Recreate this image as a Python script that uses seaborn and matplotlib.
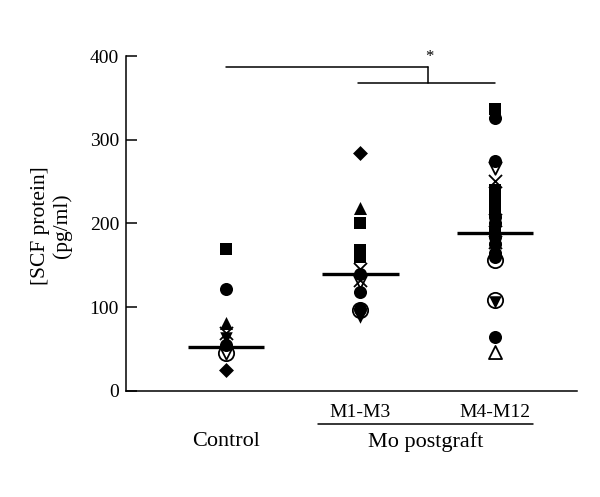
import matplotlib
matplotlib.use("Agg")
import matplotlib.pyplot as plt
import matplotlib.transforms as mtransforms
import seaborn as sns
import pandas as pd

# ---------------- data ----------------
groups = ["Control", "M1-M3", "M4-M12"]

control_values = [169, 121, 81, 69, 63, 55, 45, 45, 25]
control_symbols = ["square", "circle", "triangle", "cross", "tri_down",
                   "circle", "open_circle", "open_tri_down", "diamond"]

m1_values = [284, 218, 200, 168, 160, 146, 140, 132, 130, 118, 98, 96, 88]
m1_symbols = ["diamond", "triangle", "square", "square", "square", "cross",
              "circle", "cross", "open_tri_down", "circle", "circle",
              "open_circle", "tri_down"]

m4_values = [337, 326, 274, 266, 251, 240, 232, 224, 215, 208, 204, 200,
             195, 190, 184, 178, 175, 170, 165, 160, 156, 108, 106, 64, 46]
m4_symbols = ["square", "circle", "circle", "open_tri_down", "cross", "square",
              "square", "square", "square", "circle", "cross", "circle",
              "tri_down", "square", "circle", "cross", "circle", "tri_down",
              "circle", "circle", "open_circle", "open_circle", "tri_down",
              "circle", "open_triangle"]

center_lines = [52, 139, 188]

y_ticks = [0, 100, 200, 300, 400]
y_label = "[SCF protein]\n(pg/ml)"
group_caption = "Mo postgraft"

# ---------------- frame ----------------
df = pd.concat([
    pd.DataFrame({"group": groups[0], "value": control_values, "symbol": control_symbols}),
    pd.DataFrame({"group": groups[1], "value": m1_values, "symbol": m1_symbols}),
    pd.DataFrame({"group": groups[2], "value": m4_values, "symbol": m4_symbols}),
], ignore_index=True)

# symbol -> (marker, filled, size)
symbol_style = {
    "square": ("s", True, 8.6),
    "circle": ("o", True, 9.4),
    "triangle": ("^", True, 9.4),
    "tri_down": ("v", True, 9.0),
    "diamond": ("D", True, 7.6),
    "cross": ("x", None, 9.4),
    "open_circle": ("o", False, 11.0),
    "open_tri_down": ("v", False, 9.0),
    "open_triangle": ("^", False, 9.4),
}

sns.set_theme(style="white")
plt.rcParams["font.family"] = ["Liberation Serif", "DejaVu Serif"]

fig = plt.figure(figsize=(6.0, 4.97), dpi=100)
ax = fig.add_axes([0.21, 0.2139, 0.7517, 0.6734])

draw_order = ["open_circle", "square", "circle", "triangle", "diamond",
              "tri_down", "open_tri_down", "open_triangle", "cross"]
for sym in draw_order:
    sub = df[df["symbol"] == sym]
    if sub.empty:
        continue
    marker, filled, size = symbol_style[sym]
    if filled is None:
        sns.stripplot(data=sub, x="group", y="value", order=groups, jitter=False,
                      marker=marker, color="black", size=size, linewidth=1.3, ax=ax,
                      zorder=4)
    elif filled:
        sns.stripplot(data=sub, x="group", y="value", order=groups, jitter=False,
                      marker=marker, color="black", size=size, linewidth=0, ax=ax,
                      zorder=3)
    else:
        sns.stripplot(data=sub, x="group", y="value", order=groups, jitter=False,
                      marker=marker, color="white", edgecolor="black", size=size,
                      linewidth=1.3, ax=ax, zorder=2)

# center lines
half = 0.283
for i, v in enumerate(center_lines):
    ax.hlines(v, i - half, i + half, color="black", lw=2.4, zorder=5)

ax.set_xlim(-0.743, 2.61)
ax.set_ylim(0, 400)
ax.set_yticks(y_ticks)
ax.set_yticklabels([str(t) for t in y_ticks], fontsize=14)
ax.set_xticks([])
ax.set_xlabel("")
ax.set_ylabel("")
ax.tick_params(axis="y", direction="in", length=8, width=1.1, pad=5,
               left=True, colors="black")
for s in ["top", "right"]:
    ax.spines[s].set_visible(False)
for s in ["left", "bottom"]:
    ax.spines[s].set_color("black")
    ax.spines[s].set_linewidth(1.1)

# y label
ax.text(-0.165, 0.492, y_label, transform=ax.transAxes, rotation=90,
        ha="center", va="center", multialignment="center", fontsize=15.5,
        color="black")

# x labels
trans = mtransforms.blended_transform_factory(ax.transData, ax.transAxes)
ax.text(1, -0.0666, groups[1], transform=trans, ha="center", va="center",
        fontsize=14, color="black")
ax.text(2, -0.0666, groups[2], transform=trans, ha="center", va="center",
        fontsize=14, color="black")
ax.text(0, -0.152, groups[0], transform=trans, ha="center", va="center",
        fontsize=16, color="black")
ax.text(1.487, -0.152, group_caption, transform=trans, ha="center", va="center",
        fontsize=16, color="black")
ax.plot([0.684, 2.283], [-0.1004, -0.1004], transform=trans, color="black",
        lw=1.1, clip_on=False)

# significance bracket
ax.plot([0, 1.502], [387, 387], color="black", lw=1.1, clip_on=False)
ax.plot([1.502, 1.502], [387, 367.4], color="black", lw=1.1, clip_on=False)
ax.plot([0.981, 2.0], [367.4, 367.4], color="black", lw=1.1, clip_on=False)
ax.text(1.51, 389, "*", ha="center", va="bottom", fontsize=12, color="black")

fig.savefig("out.png", dpi=100)
